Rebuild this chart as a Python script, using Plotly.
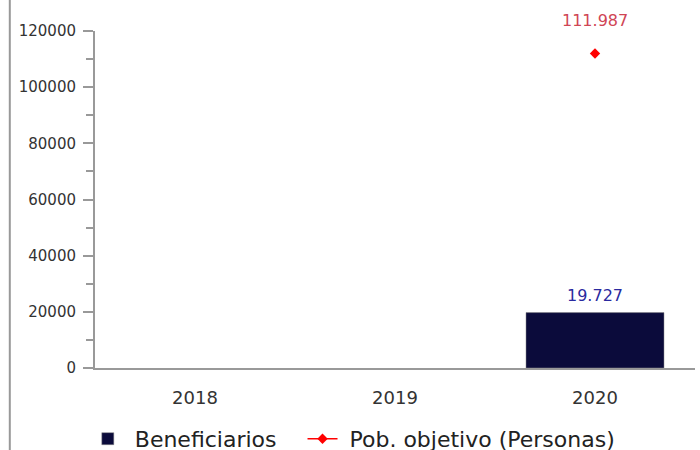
import plotly.graph_objects as go

years = ["2018", "2019", "2020"]
beneficiarios = [None, None, 19727]
pob_objetivo = [None, None, 111987]
y_ticks = [0, 20000, 40000, 60000, 80000, 100000, 120000]

def fmt(v):
    return "" if v is None else f"{v:,}".replace(",", ".")

NB = "\u00a0"
fig = go.Figure()
fig.add_trace(go.Bar(
    x=years, y=beneficiarios, name=NB + "Beneficiarios" + NB * 3,
    marker=dict(color="#0b0b3b", line=dict(color="#888888", width=0.5)),
))
fig.add_trace(go.Scatter(
    x=years, y=pob_objetivo, name=NB + "Pob. objetivo (Personas)",
    mode="lines+markers",
    line=dict(color="#ff0000", width=1.5),
    marker=dict(symbol="diamond", color="#ff0000", size=8),
    cliponaxis=False,
))

annotations = []
for i, v in enumerate(beneficiarios):
    if v is not None:
        annotations.append(dict(x=i, y=v, text=fmt(v), showarrow=False, yanchor="bottom",
                                yshift=6, font=dict(color="#2a2aa0", size=16)))
for i, v in enumerate(pob_objetivo):
    if v is not None:
        annotations.append(dict(x=i, y=v, text=fmt(v), showarrow=False, yanchor="bottom",
                                yshift=22, font=dict(color="#d04555", size=16)))

fig.update_layout(
    width=700, height=450,
    margin=dict(l=95, r=5, t=31, b=82, autoexpand=False),
    plot_bgcolor="white", paper_bgcolor="white",
    font=dict(family="DejaVu Sans", color="#333333"),
    bargap=0.31,
    showlegend=True,
    annotations=annotations,
    legend=dict(orientation="h", x=-0.012, xanchor="left", y=-0.148, yanchor="top",
                font=dict(size=22, color="#222222"), itemwidth=30),
    xaxis=dict(type="category", showline=True, linecolor="#999999", linewidth=2, ticks="outside",
               ticklen=12, tickcolor="rgba(0,0,0,0)", automargin=False,
               tickfont=dict(size=18, color="#333333"), showgrid=False),
    yaxis=dict(range=[0, 120000], tickvals=y_ticks, tickformat="d", showline=True, linecolor="#999999",
               linewidth=2, ticks="outside", ticklen=10, tickwidth=2, tickcolor="#999999",
               tickfont=dict(size=15, color="#333333"), showgrid=False, zeroline=False,
               automargin=False, ticklabelstandoff=4,
               minor=dict(dtick=10000, ticks="outside", ticklen=7, tickwidth=2, tickcolor="#999999")),
    shapes=[dict(type="line", xref="paper", yref="paper", x0=-0.142, x1=-0.142,
                 y0=-0.3, y1=1.2, line=dict(color="#999999", width=2))],
)
fig.write_html("out.html", config={"displayModeBar": False},
               post_script="document.body.style.margin='0';document.body.style.overflow='hidden';")
